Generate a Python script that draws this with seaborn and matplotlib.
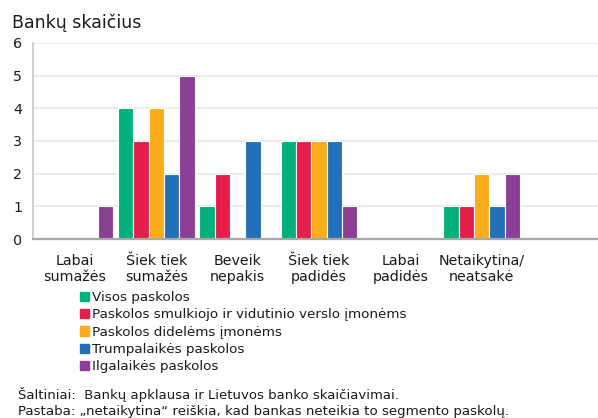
import matplotlib
matplotlib.use("Agg")
import matplotlib.pyplot as plt
import matplotlib.patches as mpatches
import seaborn as sns
import pandas as pd

categories = ["Labai\nsumažės", "Šiek tiek\nsumažės", "Beveik\nnepakis",
              "Šiek tiek\npadidės", "Labai\npadidės", "Netaikytina/\nneatsakė"]
series_names = ["Visos paskolos",
                "Paskolos smulkiojo ir vidutinio verslo įmonėms",
                "Paskolos didelėms įmonėms",
                "Trumpalaikės paskolos",
                "Ilgalaikės paskolos"]
visos = [0, 4, 1, 3, 0, 1]
smv = [0, 3, 2, 3, 0, 1]
dideles = [0, 4, 0, 3, 0, 2]
trumpalaikes = [0, 2, 3, 3, 0, 1]
ilgalaikes = [1, 5, 0, 1, 0, 2]
colors = ["#00b07b", "#e41f4c", "#fbad1b", "#2470b8", "#8c3f96"]
yticks = [0, 1, 2, 3, 4, 5, 6]

values = [visos, smv, dideles, trumpalaikes, ilgalaikes]
rows = []
for name, vals in zip(series_names, values):
    for c, v in zip(categories, vals):
        rows.append({"cat": c, "series": name, "val": v})
df = pd.DataFrame(rows)

sns.set_style("white")
plt.rcParams['font.family'] = ['DejaVu Sans']
txt = "#1a1a1a"

fig = plt.figure(figsize=(5.98, 4.18), dpi=100)
ax = fig.add_axes([33/598, 1-239/418, 1-33/598, (239-43)/418])
sns.barplot(data=df, x="cat", y="val", hue="series", order=categories,
            hue_order=series_names, palette=colors, width=0.94,
            edgecolor="white", linewidth=0.8, ax=ax, legend=False,
            errorbar=None, saturation=1)

ax.set_ylim(0, 6)
ax.set_yticks(yticks)
ax.set_xlim(-0.517, 6.43)
ax.set_xlabel("")
ax.set_ylabel("")
ax.yaxis.grid(True, color="#ececec", linewidth=1.5)
ax.set_axisbelow(True)
for s in ["top", "right"]:
    ax.spines[s].set_visible(False)
ax.spines["left"].set_color("#c8c8c8")
ax.spines["left"].set_linewidth(1.2)
ax.spines["bottom"].set_color("#a8a8a8")
ax.spines["bottom"].set_linewidth(1.6)
ax.tick_params(axis="both", length=0, labelsize=10.3, colors=txt)
ax.tick_params(axis="x", pad=11)
ax.tick_params(axis="y", pad=11)
for lab in ax.get_yticklabels():
    lab.set_horizontalalignment("center")

fig.text(12/598, 1-23/418, "Bankų skaičius", fontsize=12.5, color=txt, va="center", ha="left")

handles = [mpatches.Patch(color=c, label=n) for c, n in zip(colors, series_names)]
fig.legend(handles=handles, loc="upper left", bbox_to_anchor=(80/598, 1-291/418),
           frameon=False, fontsize=9.7, handlelength=0.7, handleheight=0.7,
           handletextpad=0.2, labelspacing=0.32, borderpad=0, borderaxespad=0,
           labelcolor=txt)

fig.text(18/598, 1-395/418, "Šaltiniai:  Bankų apklausa ir Lietuvos banko skaičiavimai.",
         fontsize=9.5, color=txt, va="center", ha="left")
fig.text(18/598, 1-411/418, "Pastaba: „netaikytina“ reiškia, kad bankas neteikia to segmento paskolų.",
         fontsize=9.6, color=txt, va="center", ha="left")

fig.savefig("out.png", dpi=100)
